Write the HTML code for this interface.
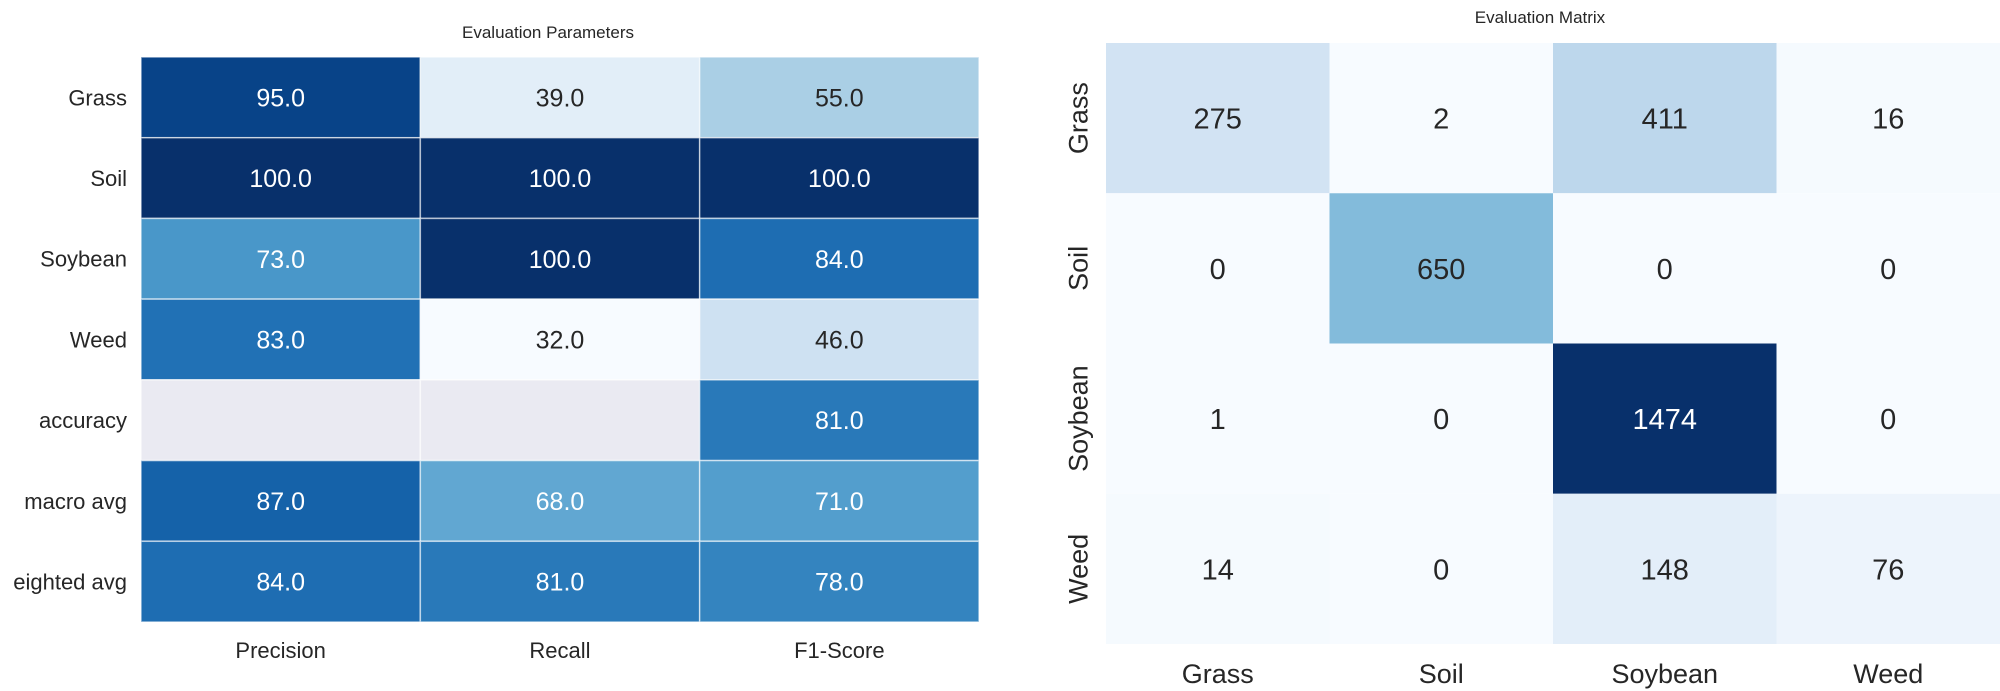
<!DOCTYPE html>
<html><head><meta charset="utf-8"><style>
body{margin:0;background:#fff;}
svg{display:block;font-family:"Liberation Sans",sans-serif;}
</style></head><body>
<svg id="chart" width="2000" height="691" viewBox="0 0 2000 691">
<text x="548" y="38" font-size="17" text-anchor="middle" fill="#262626">Evaluation Parameters</text>
<text x="1540" y="23" font-size="17" text-anchor="middle" fill="#262626">Evaluation Matrix</text>
<g id="left"></g>
<g id="right"></g>
</svg>
<script>
const leftRows = ["Grass","Soil","Soybean","Weed","accuracy","macro avg","eighted avg"];
const leftCols = ["Precision","Recall","F1-Score"];
const precision = [95,100,73,83,null,87,84];
const recall = [39,100,100,32,null,68,81];
const f1score = [55,100,84,46,81,71,78];
const rightRows = ["Grass","Soil","Soybean","Weed"];
const rightCols = ["Grass","Soil","Soybean","Weed"];
const matGrass = [275,2,411,16];
const matSoil = [0,650,0,0];
const matSoybean = [1,0,1474,0];
const matWeed = [14,0,148,76];

const NS="http://www.w3.org/2000/svg";
const stops=["#f7fbff","#deebf7","#c6dbef","#9ecae1","#6baed6","#4292c6","#2171b5","#08519c","#08306b"];
function hex(h){return [1,3,5].map(i=>parseInt(h.substr(i,2),16));}
function blues(t){t=Math.max(0,Math.min(1,t));const p=t*8,i=Math.min(7,Math.floor(p)),f=p-i;const a=hex(stops[i]),b=hex(stops[i+1]);const c=a.map((v,k)=>Math.round(v+(b[k]-v)*f));return {css:`rgb(${c})`,lum:(0.299*c[0]+0.587*c[1]+0.114*c[2])/255};}
function el(tag,attrs,parent){const e=document.createElementNS(NS,tag);for(const k in attrs)e.setAttribute(k,attrs[k]);parent.appendChild(e);return e;}

// data given as rows: data[r][c]
function heatmap(g,rows,cols,data,x0,y0,w,h,vmin,vmax,fs,fmt,gridStroke,rotY,lfs,xLabY,yLabX,thr){
  const cw=w/cols.length,rh=h/rows.length;
  const xs=c=>x0+c*cw, ys=r=>y0+r*rh;
  rows.forEach((rn,r)=>{cols.forEach((cn,c)=>{
    const v=data[r][c];
    const col=v==null?{css:"#eaeaf2",lum:1}:blues((v-vmin)/(vmax-vmin));
    const rect=el("rect",{x:xs(c),y:ys(r),width:cw,height:rh,fill:col.css,stroke:gridStroke,"stroke-width":gridStroke=="none"?0:1.5},g);
    
    
    if(v!=null){
      const t=el("text",{x:xs(c)+cw/2,y:ys(r)+rh/2+fs*0.36,"font-size":fs,"text-anchor":"middle",fill:col.lum<thr?"#ffffff":"#262626"},g);
      t.textContent=fmt(v);
      
      
    }
  });});
  rows.forEach((rn,r)=>{
    const cy=ys(r)+rh/2;
    let t;
    if(rotY){t=el("text",{x:yLabX,y:cy,"font-size":lfs,"text-anchor":"middle",fill:"#262626",transform:`rotate(-90 ${yLabX} ${cy})`,dy:lfs*0.36},g);}
    else{t=el("text",{x:yLabX,y:cy+lfs*0.36,"font-size":lfs,"text-anchor":"end",fill:"#262626"},g);}
    t.textContent=rn;
    
    
  });
  cols.forEach((cn,c)=>{
    const t=el("text",{x:xs(c)+cw/2,y:xLabY,"font-size":lfs,"text-anchor":"middle",fill:"#262626"},g);
    t.textContent=cn;
    
    
  });
}
const leftData = leftRows.map((_,r)=>[precision[r],recall[r],f1score[r]]);
heatmap(document.getElementById('left'),leftRows,leftCols,leftData,141,57,838,565,32,100,25,v=>v.toFixed(1),"rgba(255,255,255,0.6)",false,22,658,127,0.68);
heatmap(document.getElementById('right'),rightRows,rightCols,[matGrass,matSoil,matSoybean,matWeed],1106,43,894,601,0,1474,29,v=>String(v),"none",true,27,683,1078,0.5);
</script>
</body></html>
